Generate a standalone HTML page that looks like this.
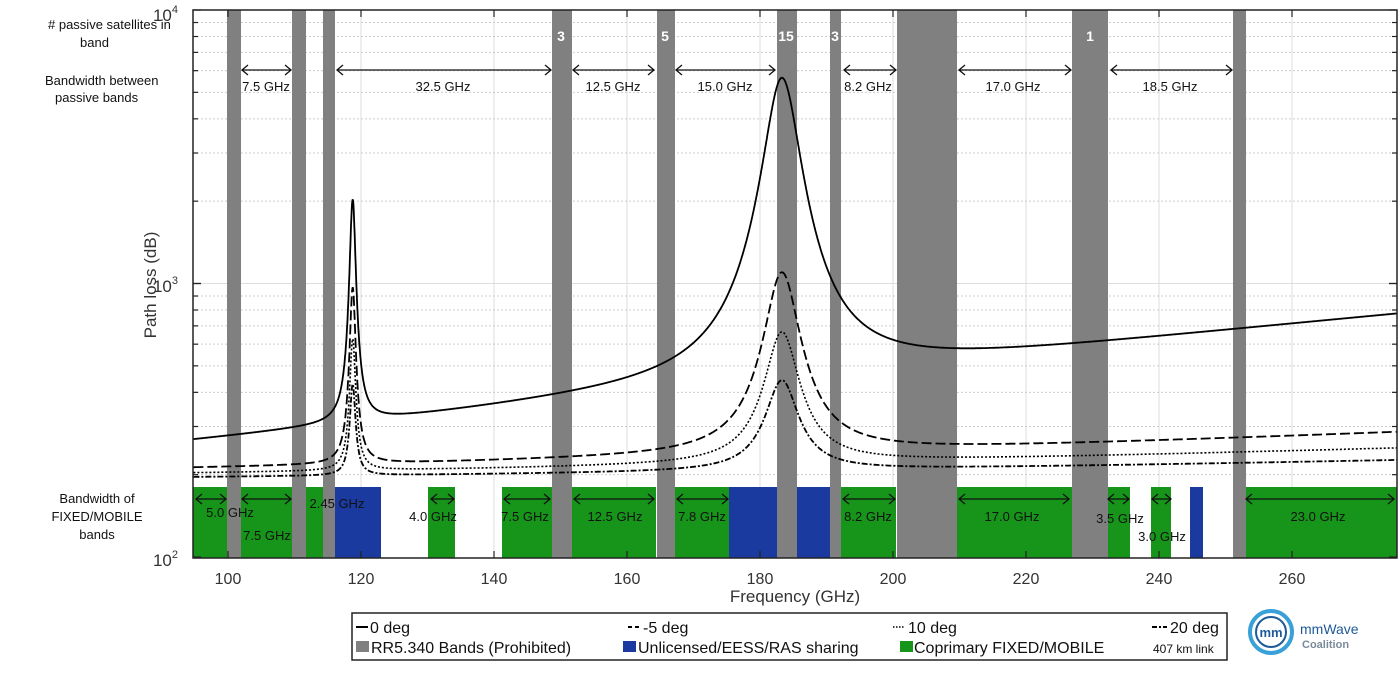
<!DOCTYPE html>
<html><head><meta charset="utf-8"><style>
body{margin:0;background:#fff;}
svg{font-family:"Liberation Sans",Arial,sans-serif;}
</style></head><body>
<svg id="s" width="1400" height="673" viewBox="0 0 1400 673" xmlns="http://www.w3.org/2000/svg">
<defs><clipPath id="cp"><rect x="193" y="10" width="1204" height="548"/></clipPath></defs>
<rect width="1400" height="673" fill="#fff"/>
<g id="grid"></g>
<g id="bands"></g>
<g id="curves" fill="none" stroke="#000" clip-path="url(#cp)"></g>
<rect x="193" y="10" width="1204" height="548" fill="none" stroke="#222" stroke-width="1.5"/>
<g id="ticks" stroke="#222" stroke-width="1.2"></g>
<g font-size="13" fill="#111">
<text x="48" y="29"># passive satellites in</text><text x="80" y="47">band</text>
<text x="45" y="85">Bandwidth between</text><text x="55" y="102">passive bands</text>
<text x="97" y="503" text-anchor="middle">Bandwidth of</text>
<text x="97" y="521" text-anchor="middle">FIXED/MOBILE</text>
<text x="97" y="539" text-anchor="middle">bands</text>
</g>
<g font-size="17" fill="#333">
<text x="178" y="21" text-anchor="end">10<tspan dy="-8" font-size="11">4</tspan></text>
<text x="178" y="292" text-anchor="end">10<tspan dy="-8" font-size="11">3</tspan></text>
<text x="178" y="566" text-anchor="end">10<tspan dy="-8" font-size="11">2</tspan></text>
<text transform="translate(156,285) rotate(-90)" text-anchor="middle" font-size="17">Path loss (dB)</text>
<text x="795" y="602" text-anchor="middle" font-size="17">Frequency (GHz)</text>
</g>
<g id="xl" font-size="16" fill="#333" text-anchor="middle"></g>
<g id="ann" font-size="13" fill="#111"></g>
<g font-size="14" font-weight="bold" fill="#fff" text-anchor="middle">
<text x="561" y="41">3</text><text x="665" y="41">5</text><text x="786" y="41">15</text><text x="835" y="41">3</text><text x="1090" y="41">1</text>
</g>
<rect x="352" y="613" width="875" height="47" fill="#fff" stroke="#222" stroke-width="1.5"/>
<g font-size="16" fill="#111">
<line x1="356" y1="627" x2="368" y2="627" stroke="#000" stroke-width="2"/><text x="370" y="633">0 deg</text>
<line x1="628" y1="627" x2="640" y2="627" stroke="#000" stroke-width="2" stroke-dasharray="4,3"/><text x="643" y="633">-5 deg</text>
<line x1="893" y1="627" x2="905" y2="627" stroke="#000" stroke-width="1.5" stroke-dasharray="1.5,1.5"/><text x="908" y="633">10 deg</text>
<line x1="1152" y1="627" x2="1167" y2="627" stroke="#000" stroke-width="2" stroke-dasharray="5,2,2,2"/><text x="1170" y="633">20 deg</text>
<rect x="356" y="641" width="13" height="11" fill="#808080"/><text x="371" y="653">RR5.340 Bands (Prohibited)</text>
<rect x="623" y="641" width="13" height="11" fill="#1a3aa0"/><text x="638" y="653">Unlicensed/EESS/RAS sharing</text>
<rect x="900" y="641" width="13" height="11" fill="#16951a"/><text x="914" y="653">Coprimary FIXED/MOBILE</text>
<text x="1153" y="653" font-size="12">407 km link</text>
</g>
<circle cx="1271" cy="632" r="21" fill="none" stroke="#3aa0d8" stroke-width="4"/>
<circle cx="1271" cy="632" r="15" fill="#fff" stroke="#1e5a9a" stroke-width="2"/>
<text x="1271" y="637" font-size="13" font-weight="bold" fill="#1e5a9a" text-anchor="middle">mm</text>
<text x="1300" y="634" font-size="14" fill="#1e5a9a">mmWave</text>
<text x="1302" y="648" font-size="11" font-weight="bold" fill="#7a8a9a">Coalition</text>
</svg>
<script>
const NS="http://www.w3.org/2000/svg";
function el(p,t,a,txt){const e=document.createElementNS(NS,t);for(const k in a)e.setAttribute(k,a[k]);if(txt!==undefined)e.textContent=txt;document.getElementById(p).appendChild(e);return e;}
const X=f=>228+(f-100)*6.65;
const Y=v=>557-273.5*Math.log10(v/100);
for(let f=100;f<=260;f+=20){el('grid','line',{x1:X(f),y1:10,x2:X(f),y2:558,stroke:'#ddd','stroke-width':1});}
for(const d of [100,1000]){for(let m=2;m<=9;m++){const y=Y(d*m);el('grid','line',{x1:193,y1:y,x2:1397,y2:y,stroke:'#ccc','stroke-width':1,'stroke-dasharray':'2,2'});}}
el('grid','line',{x1:193,y1:Y(1000),x2:1397,y2:Y(1000),stroke:'#ddd','stroke-width':1});
for(let f=100;f<=260;f+=20){const x=X(f);el('ticks','line',{x1:x,y1:558,x2:x,y2:551});el('ticks','line',{x1:x,y1:10,x2:x,y2:17});el('xl','text',{x:x,y:584},String(f));}
for(const d of [100,1000]){for(let m=1;m<=10;m++){const y=Y(d*m);el('ticks','line',{x1:193,y1:y,x2:m==1||m==10?201:198,y2:y});el('ticks','line',{x1:1397,y1:y,x2:m==1||m==10?1389:1392,y2:y});}}
const G='#16951a',B='#1a3aa0',R='#808080';
const greens=[[193,323],[334,336],[428,455],[502,552],[572,656],[675,729],[841,896],[957,1072],[1108,1130],[1151,1171],[1246,1397]];
greens.forEach(g=>el('bands','rect',{x:g[0],y:487,width:g[1]-g[0],height:71,fill:G}));
[[335,381],[729,777],[797,830],[1190,1203]].forEach(g=>el('bands','rect',{x:g[0],y:487,width:g[1]-g[0],height:71,fill:B}));
[[227,241],[292,306],[323,335],[552,572],[657,675],[777,797],[830,841],[897,957],[1072,1108],[1233,1246]].forEach(g=>el('bands','rect',{x:g[0],y:10,width:g[1]-g[0],height:548,fill:R}));
function pl(f,a,c,A1,w1,A2,w2){return a+c*f*f+A1/(1+((f-118.75)/w1)**2)+A2/(1+((f-183.3)/w2)**2);}
const sets=[[196.6,0.00758,1720,0.45,5200,2.6,'none',1.8],[202,0.00111,750,0.45,860,2.6,'10,4',1.8],[196.6,0.000706,420,0.45,445,2.6,'2,2',1.6],[192,0.00045,230,0.45,236,2.6,'6,2,2,2',1.8]];
sets.forEach(s=>{let d='';for(let f=94.8;f<=276;f+=0.05){d+=(d?'L':'M')+X(f).toFixed(1)+','+Y(pl(f,s[0],s[1],s[2],s[3],s[4],s[5])).toFixed(1);}
const a={d:d,'stroke-width':s[7]};if(s[6]!='none')a['stroke-dasharray']=s[6];el('curves','path',a);});
function arr(x1,x2,y){el('ann','line',{x1:x1+1,y1:y,x2:x2-1,y2:y,stroke:'#111','stroke-width':1.3});
el('ann','path',{d:`M${x1+7},${y-5}L${x1+1},${y}L${x1+7},${y+5}M${x2-7},${y-5}L${x2-1},${y}L${x2-7},${y+5}`,fill:'none',stroke:'#111','stroke-width':1.3});}
function t(x,y,s){el('ann','text',{x:x,y:y,'text-anchor':'middle'},s);}
[[241,292,266,'7.5 GHz'],[336,552,443,'32.5 GHz'],[572,655,613,'12.5 GHz'],[675,776,725,'15.0 GHz'],[843,897,868,'8.2 GHz'],[958,1072,1013,'17.0 GHz'],[1110,1233,1170,'18.5 GHz']].forEach(a=>{arr(a[0],a[1],70);t(a[2],91,a[3]);});
[[195,227,230,517,'5.0 GHz'],[241,292,267,540,'7.5 GHz'],[430,455,433,521,'4.0 GHz'],[503,551,525,521,'7.5 GHz'],[573,655,615,521,'12.5 GHz'],[676,729,702,521,'7.8 GHz'],[842,896,868,521,'8.2 GHz'],[958,1070,1012,521,'17.0 GHz'],[1107,1130,1120,523,'3.5 GHz'],[1151,1172,1162,541,'3.0 GHz'],[1245,1395,1318,521,'23.0 GHz']].forEach(a=>{arr(a[0],a[1],499);t(a[2],a[3],a[4]);});
t(337,508,'2.45 GHz');
</script>
</body></html>
